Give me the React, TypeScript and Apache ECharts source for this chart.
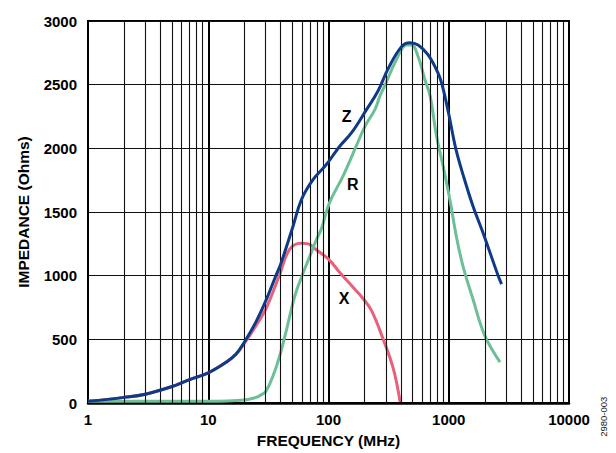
import React, { useEffect, useRef } from "react";
import * as echarts from "echarts";

const xTickLabels = ["1", "10", "100", "1000", "10000"];
const yTicks = [0, 500, 1000, 1500, 2000, 2500, 3000];
const minorGridFreqs = [
  2, 3, 4, 5, 6, 7, 8, 9,
  20, 30, 40, 50, 60, 70, 80, 90,
  200, 300, 400, 500, 600, 700, 800, 900,
  2000, 3000, 4000, 5000, 6000, 7000, 8000, 9000,
];

const zFreq = [1, 2, 3, 5, 7, 10, 14, 17, 20, 25, 30, 36.5, 40, 50.8, 59.7, 74.6, 96, 124, 155, 207, 258, 315, 405, 475, 556, 674, 815, 880, 1000, 1143, 1318, 1589, 1940, 2575, 2750];
const zVal = [14, 45, 70, 130, 185, 238, 320, 385, 480, 640, 800, 1000, 1090, 1391, 1600, 1756, 1873, 2017, 2121, 2304, 2450, 2630, 2799, 2830, 2812, 2734, 2591, 2500, 2270, 2000, 1790, 1547, 1330, 1000, 935];

const rFreq = [1, 10, 20, 25, 27, 30, 34.6, 39.4, 45, 52.6, 61.7, 70, 79.5, 87, 102, 132, 170, 201, 243, 267, 296, 361, 446, 490, 556, 634, 700, 792, 898, 1021, 1161, 1318, 1589, 1995, 2670];
const rVal = [15, 15, 25, 45, 60, 90, 215, 375, 585, 845, 1025, 1155, 1285, 1365, 1574, 1782, 2017, 2173, 2304, 2408, 2499, 2682, 2812, 2812, 2721, 2538, 2410, 2095, 1860, 1600, 1300, 1070, 817, 530, 322];

const xFreq = [1, 2, 3, 5, 7, 10, 14, 17, 20, 25, 30, 39.4, 47.6, 59, 68, 80, 100, 124, 160, 195, 228, 284, 346, 394];
const xVal = [14, 45, 70, 130, 185, 238, 318, 380, 470, 610, 735, 1013, 1209, 1255, 1250, 1200, 1130, 1026, 909, 817, 726, 505, 270, 8];

const curveLabels = [
  { text: "Z", x: 346.7, y: 116 },
  { text: "R", x: 352.7, y: 184.3 },
  { text: "X", x: 344, y: 298.3 },
];

const FONT = "'Liberation Sans', Arial, Helvetica, sans-serif";

function pairs(f: number[], v: number[]) {
  return f.map((x, i) => [x, v[i]]);
}

export default function App() {
  const ref = useRef<HTMLDivElement>(null);
  useEffect(() => {
    if (!ref.current) return;
    const chart = echarts.init(ref.current, undefined, { renderer: "svg" });
    const option: any = {
      animation: false,
      backgroundColor: "#fff",
      grid: {
        left: 88,
        right: 47,
        top: 21,
        bottom: 48,
        show: true,
        borderColor: "#000",
        borderWidth: 2,
        backgroundColor: "transparent",
      },
      xAxis: {
        type: "log",
        logBase: 10,
        min: 1,
        max: 10000,
        name: "FREQUENCY (MHz)",
        nameLocation: "middle",
        nameGap: 28,
        nameTextStyle: { fontFamily: FONT, fontWeight: "bold", fontSize: 15.5, color: "#000" },
        axisLine: { show: true, lineStyle: { color: "#000", width: 2.5 } },
        axisTick: { show: false },
        axisLabel: {
          margin: 9,
          fontFamily: FONT,
          fontWeight: "bold",
          fontSize: 15,
          color: "#000",
          formatter: (v: number) => {
            const i = Math.round(Math.log10(v));
            return xTickLabels[i] ?? String(v);
          },
        },
        splitLine: { show: true, lineStyle: { color: "#000", width: 2 } },
      },
      yAxis: {
        type: "value",
        min: yTicks[0],
        max: yTicks[yTicks.length - 1],
        interval: 500,
        name: "IMPEDANCE (Ohms)",
        nameLocation: "middle",
        nameGap: 57,
        nameTextStyle: { fontFamily: FONT, fontWeight: "bold", fontSize: 15.5, color: "#000" },
        axisLine: { show: true, lineStyle: { color: "#000", width: 2 } },
        axisTick: { show: false },
        axisLabel: {
          margin: 11,
          fontFamily: FONT,
          fontWeight: "bold",
          fontSize: 15,
          color: "#000",
          formatter: (v: number) => String(v),
        },
        splitLine: { show: true, lineStyle: { color: "#111", width: 1.2 } },
      },
      series: [
        {
          name: "grid",
          type: "line",
          data: [],
          silent: true,
          z: 1,
          markLine: {
            silent: true,
            symbol: ["none", "none"],
            label: { show: false },
            animation: false,
            lineStyle: { color: "#111", width: 1.1, type: "solid" },
            emphasis: { disabled: true },
            data: minorGridFreqs.map((f) => ({ xAxis: f })),
          },
        },
        {
          name: "X",
          type: "line",
          data: pairs(xFreq, xVal),
          showSymbol: false,
          smooth: 0.4,
          z: 3,
          lineStyle: { color: "#e9607a", width: 3 },
        },
        {
          name: "R",
          type: "line",
          data: pairs(rFreq, rVal),
          showSymbol: false,
          smooth: 0.4,
          z: 4,
          lineStyle: { color: "#6cbf96", width: 3 },
        },
        {
          name: "Z",
          type: "line",
          data: pairs(zFreq, zVal),
          showSymbol: false,
          smooth: 0.4,
          z: 5,
          lineStyle: { color: "#0f3a86", width: 3 },
        },
      ],
      graphic: [
        ...curveLabels.map((l) => ({
          type: "text",
          x: l.x,
          y: l.y,
          z: 10,
          style: {
            text: l.text,
            fontFamily: FONT,
            fontWeight: "bold",
            fontSize: 16,
            fill: "#000",
            align: "center",
            verticalAlign: "middle",
          },
        })),
        {
          type: "text",
          x: 603,
          y: 416.7,
          rotation: Math.PI / 2,
          style: {
            text: "2980-003",
            fontFamily: FONT,
            fontSize: 9.5,
            fill: "#222",
            align: "center",
            verticalAlign: "middle",
          },
        },
      ],
    };
    chart.setOption(option);
    return () => chart.dispose();
  }, []);
  return (
    <div
      ref={ref}
      style={{ position: "fixed", left: 0, top: 0, width: 616, height: 453, background: "#fff" }}
    />
  );
}
